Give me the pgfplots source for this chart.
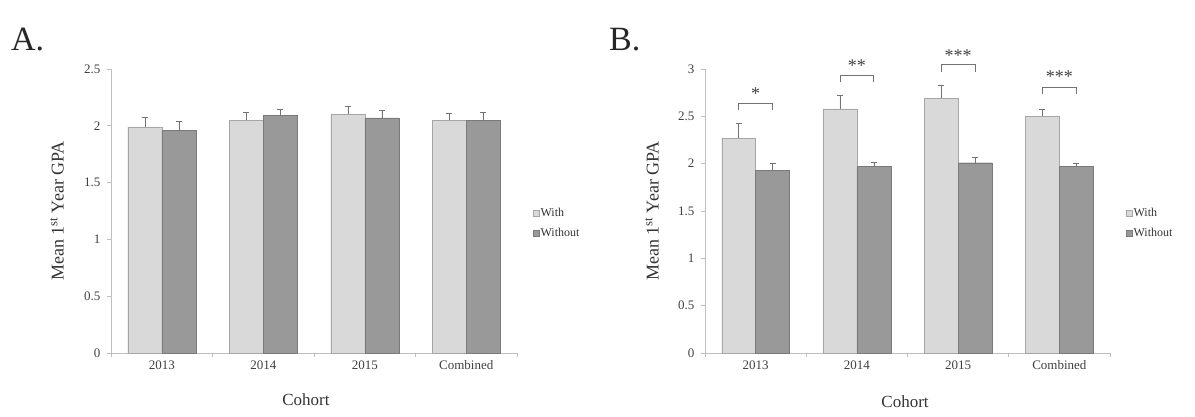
\documentclass[border=0pt]{standalone}
\usepackage{fontspec}
\setmainfont{Liberation Serif}
\usepackage{pgfplots}
\pgfplotsset{compat=1.18}
\usepackage{pgfplotstable}
\definecolor{withc}{HTML}{D9D9D9}
\definecolor{withb}{HTML}{A6A6A6}
\definecolor{woc}{HTML}{999999}
\definecolor{wob}{HTML}{7A7A7A}
\definecolor{axc}{HTML}{BFBFBF}

\pgfplotstableread{
x y e
0 1.99 0.09
1 2.05 0.07
2 2.10 0.07
3 2.05 0.06
}\Awith
\pgfplotstableread{
x y e
0 1.96 0.08
1 2.09 0.06
2 2.07 0.07
3 2.05 0.07
}\Awithout
\pgfplotstableread{
x y e
0 2.27 0.16
1 2.58 0.14
2 2.69 0.14
3 2.50 0.08
}\Bwith
\pgfplotstableread{
x y e
0 1.93 0.07
1 1.97 0.05
2 2.01 0.06
3 1.97 0.03
}\Bwithout

\pgfplotsset{gpa/.style={
  scale only axis, height=284pt, anchor=south west,
  axis lines=left, axis line style={axc, line width=0.8pt, -},
  xmin=-0.5, xmax=3.5, ymin=0,
  xtick={0,1,2,3}, xticklabels={2013,2014,2015,Combined},
  major x tick style={draw=none},
  minor xtick={-0.5,0.5,1.5,2.5,3.5},
  minor tick length=4pt, major tick length=4pt,
  tick align=outside, tick style={axc, line width=0.8pt},
  tick label style={font=\fontsize{13}{15}\selectfont, text=black!75},
  yticklabel style={xshift=-3pt},
  /pgf/number format/assume math mode=true,
  label style={font=\fontsize{17}{20}\selectfont, text=black!80},
  ylabel style={font=\fontsize{18}{21}\selectfont},
  ylabel={Mean 1\textsuperscript{st} Year GPA},
  xlabel={Cohort},
  legend style={draw=none, fill=none, anchor=west,
    font=\fontsize{12}{14}\selectfont, text=black!80, row sep=8pt,
    nodes={inner sep=1pt}},
  legend cell align=left,
  clip=false,
}}
\pgfplotsset{
  withbar/.style={legend image code/.code={\draw[fill=withc,draw=withb] (0pt,-3pt) rectangle (6pt,3pt);},
    ybar, bar width=0.335, bar shift=0pt, fill=withc, draw=withb,
    error bars/.cd, y dir=plus, y explicit, error mark=-, error mark options={draw=black!55, mark size=3pt, rotate=90},
    error bar style={draw=black!55}},
  wobar/.style={legend image code/.code={\draw[fill=woc,draw=wob] (0pt,-3pt) rectangle (6pt,3pt);},
    ybar, bar width=0.335, bar shift=0pt, fill=woc, draw=wob,
    error bars/.cd, y dir=plus, y explicit, error mark=-, error mark options={draw=black!55, mark size=3pt, rotate=90},
    error bar style={draw=black!55}},
}

\begin{document}
\begin{tikzpicture}
\useasboundingbox (0,0) rectangle (1195pt,417pt);
\node[anchor=base west, font=\fontsize{34}{40}\selectfont, text=black!85, inner sep=0pt] at (11pt,366pt) {A.};
\node[anchor=base west, font=\fontsize{34}{40}\selectfont, text=black!85, inner sep=0pt] at (609pt,366pt) {B.};

\begin{axis}[gpa, at={(111pt,64pt)}, width=406pt, ymax=2.5,
  ytick={0,0.5,1,1.5,2,2.5},
  yticklabels={0,0.5,1,1.5,2,2.5},
  ylabel style={at={(axis description cs:-0.133,0.5)}, anchor=center},
  xlabel style={at={(axis description cs:0.48,-0.165)}, anchor=center},
  legend style={at={(1.032,0.456)}}]
\addplot[withbar] table[x expr=\thisrow{x}-0.1675,y=y,y error=e]{\Awith};
\addlegendentry{With}
\addplot[wobar] table[x expr=\thisrow{x}+0.1675,y=y,y error=e]{\Awithout};
\addlegendentry{Without}
\end{axis}

\begin{axis}[gpa, at={(705pt,64pt)}, width=405pt, ymax=3,
  ytick={0,0.5,1,1.5,2,2.5,3},
  yticklabels={0,0.5,1,1.5,2,2.5,3},
  ylabel style={at={(axis description cs:-0.131,0.5)}, anchor=center},
  xlabel style={at={(axis description cs:0.494,-0.172)}, anchor=center},
  legend style={at={(1.032,0.456)}}]
\addplot[withbar] table[x expr=\thisrow{x}-0.1675,y=y,y error=e]{\Bwith};
\addlegendentry{With}
\addplot[wobar] table[x expr=\thisrow{x}+0.1675,y=y,y error=e]{\Bwithout};
\addlegendentry{Without}
% significance brackets
\draw[black!55, line width=0.7pt] (axis cs:-0.1675,2.57) -- (axis cs:-0.1675,2.64) -- (axis cs:0.1675,2.64) -- (axis cs:0.1675,2.57);
\draw[black!55, line width=0.7pt] (axis cs:0.8325,2.86) -- (axis cs:0.8325,2.93) -- (axis cs:1.1675,2.93) -- (axis cs:1.1675,2.86);
\draw[black!55, line width=0.7pt] (axis cs:1.8325,2.97) -- (axis cs:1.8325,3.05) -- (axis cs:2.1675,3.05) -- (axis cs:2.1675,2.97);
\draw[black!55, line width=0.7pt] (axis cs:2.8325,2.74) -- (axis cs:2.8325,2.81) -- (axis cs:3.1675,2.81) -- (axis cs:3.1675,2.74);
\node[font=\fontsize{18}{20}\selectfont, text=black!75, inner sep=0pt] at (axis cs:0,2.74) {*};
\node[font=\fontsize{18}{20}\selectfont, text=black!75, inner sep=0pt] at (axis cs:1,3.04) {**};
\node[font=\fontsize{18}{20}\selectfont, text=black!75, inner sep=0pt] at (axis cs:2,3.14) {***};
\node[font=\fontsize{18}{20}\selectfont, text=black!75, inner sep=0pt] at (axis cs:3,2.92) {***};
\end{axis}
\end{tikzpicture}
\end{document}
